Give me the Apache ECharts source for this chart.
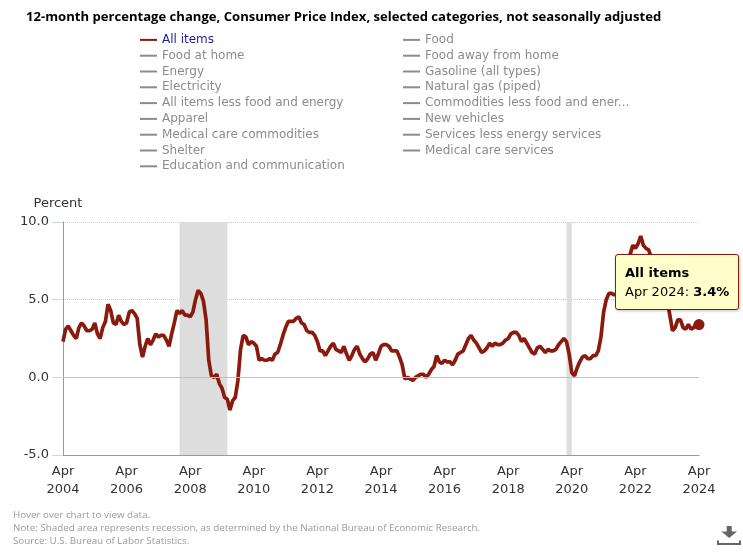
<!DOCTYPE html>
<html>
<head>
<meta charset="utf-8">
<script src="https://cdn.jsdelivr.net/npm/echarts@6/dist/echarts.min.js"></script>
<style>
html,body{margin:0;padding:0;background:#fff;}
#c{width:743px;height:553px;}
</style>
</head>
<body>
<div id="c"></div>
<script>
// ---- Data: 12-month % change, CPI-U All items (Apr 2004 - Apr 2024) ----
const cpi2004 = [2.3, 3.1, 3.3, 3.0, 2.7, 2.5, 3.2, 3.5, 3.3]; // Apr-Dec
const cpi2005 = [3.0, 3.0, 3.1, 3.5, 2.8, 2.5, 3.2, 3.6, 4.7, 4.3, 3.5, 3.4];
const cpi2006 = [4.0, 3.6, 3.4, 3.5, 4.2, 4.3, 4.1, 3.8, 2.1, 1.3, 2.0, 2.5];
const cpi2007 = [2.1, 2.4, 2.8, 2.6, 2.7, 2.7, 2.4, 2.0, 2.8, 3.5, 4.3, 4.1];
const cpi2008 = [4.3, 4.0, 4.0, 3.9, 4.2, 5.0, 5.6, 5.4, 4.9, 3.7, 1.1, 0.1];
const cpi2009 = [0.0, 0.2, -0.4, -0.7, -1.3, -1.4, -2.1, -1.5, -1.3, -0.2, 1.8, 2.7];
const cpi2010 = [2.6, 2.1, 2.3, 2.2, 2.0, 1.1, 1.2, 1.1, 1.1, 1.2, 1.1, 1.5];
const cpi2011 = [1.6, 2.1, 2.7, 3.2, 3.6, 3.6, 3.6, 3.8, 3.9, 3.5, 3.4, 3.0];
const cpi2012 = [2.9, 2.9, 2.7, 2.3, 1.7, 1.7, 1.4, 1.7, 2.0, 2.2, 1.8, 1.7];
const cpi2013 = [1.6, 2.0, 1.5, 1.1, 1.4, 1.8, 2.0, 1.5, 1.2, 1.0, 1.2, 1.5];
const cpi2014 = [1.6, 1.1, 1.5, 2.0, 2.1, 2.1, 2.0, 1.7, 1.7, 1.7, 1.3, 0.8];
const cpi2015 = [-0.1, 0.0, -0.1, -0.2, 0.0, 0.1, 0.2, 0.2, 0.0, 0.2, 0.5, 0.7];
const cpi2016 = [1.4, 1.0, 0.9, 1.1, 1.0, 1.0, 0.8, 1.1, 1.5, 1.6, 1.7, 2.1];
const cpi2017 = [2.5, 2.7, 2.4, 2.2, 1.9, 1.6, 1.7, 1.9, 2.2, 2.0, 2.2, 2.1];
const cpi2018 = [2.1, 2.2, 2.4, 2.5, 2.8, 2.9, 2.9, 2.7, 2.3, 2.5, 2.2, 1.9];
const cpi2019 = [1.6, 1.5, 1.9, 2.0, 1.8, 1.6, 1.8, 1.7, 1.7, 1.8, 2.1, 2.3];
const cpi2020 = [2.5, 2.3, 1.5, 0.3, 0.1, 0.6, 1.0, 1.3, 1.4, 1.2, 1.2, 1.4];
const cpi2021 = [1.4, 1.7, 2.6, 4.2, 5.0, 5.4, 5.4, 5.3, 5.4, 6.2, 6.8, 7.0];
const cpi2022 = [7.5, 7.9, 8.5, 8.3, 8.6, 9.1, 8.5, 8.3, 8.2, 7.7, 7.1, 6.5];
const cpi2023 = [6.4, 6.0, 5.0, 4.9, 4.0, 3.0, 3.2, 3.7, 3.7, 3.2, 3.1, 3.4];
const cpi2024 = [3.1, 3.2, 3.5, 3.4]; // Jan-Apr

const monthNames = ['Jan','Feb','Mar','Apr','May','Jun','Jul','Aug','Sep','Oct','Nov','Dec'];
const yearlySeries = [
  [2004, 3, cpi2004], [2005, 0, cpi2005], [2006, 0, cpi2006], [2007, 0, cpi2007],
  [2008, 0, cpi2008], [2009, 0, cpi2009], [2010, 0, cpi2010], [2011, 0, cpi2011],
  [2012, 0, cpi2012], [2013, 0, cpi2013], [2014, 0, cpi2014], [2015, 0, cpi2015],
  [2016, 0, cpi2016], [2017, 0, cpi2017], [2018, 0, cpi2018], [2019, 0, cpi2019],
  [2020, 0, cpi2020], [2021, 0, cpi2021], [2022, 0, cpi2022], [2023, 0, cpi2023],
  [2024, 0, cpi2024]
];
const categories = [];
const allItems = [];
yearlySeries.forEach(([yr, m0, vals]) => {
  vals.forEach((v, k) => { categories.push(monthNames[m0 + k] + ' ' + yr); allItems.push(v); });
});

// Recession periods (NBER)
const recessions = [['Dec 2007', 'Jun 2009'], ['Feb 2020', 'Apr 2020']];

const leftNames = ['All items', 'Food at home', 'Energy', 'Electricity', 'All items less food and energy',
  'Apparel', 'Medical care commodities', 'Shelter', 'Education and communication'];
const rightNames = ['Food', 'Food away from home', 'Gasoline (all types)', 'Natural gas (piped)',
  'Commodities less food and energy commodities', 'New vehicles', 'Services less energy services',
  'Medical care services'];

const titleText = '12-month percentage change, Consumer Price Index, selected categories, not seasonally adjusted';
const footerLines = [
  'Hover over chart to view data.',
  'Note: Shaded area represents recession, as determined by the National Bureau of Economic Research.',
  'Source: U.S. Bureau of Labor Statistics.'
];

const RED = '#8b1a0e';
const selected = {};
leftNames.concat(rightNames).forEach(n => { selected[n] = (n === 'All items'); });

const mainData = allItems.map((v, i) => i === allItems.length - 1
  ? { value: v, symbol: 'circle', symbolSize: 10 } : v);

const series = [{
  name: 'All items',
  type: 'line',
  data: mainData,
  color: RED,
  symbol: 'none',
  showSymbol: true,
  showAllSymbol: true,
  lineStyle: { width: 3.7, color: RED },
  itemStyle: { color: RED },
  emphasis: { disabled: true },
  z: 3,
  markArea: {
    silent: true,
    itemStyle: { color: '#dddddd' },
    data: recessions.map(r => [{ xAxis: r[0] }, { xAxis: r[1] }])
  },
  markLine: {
    silent: true,
    symbol: ['none', 'none'],
    label: { show: false },
    lineStyle: { color: '#c0c0c0', type: 'solid', width: 1 },
    data: [{ yAxis: 0 }]
  }
}];
leftNames.concat(rightNames).forEach(n => {
  if (n !== 'All items') series.push({ name: n, type: 'line', data: [], color: '#999' });
});

const legendBase = {
  orient: 'vertical', top: 32, padding: 0, itemGap: 0,
  itemWidth: 17, itemHeight: 2, icon: 'rect',
  inactiveColor: '#8c8c8c', inactiveBorderColor: '#8c8c8c',
  selected: selected,
  textStyle: { fontFamily: 'DejaVu Sans', fontSize: 12, lineHeight: 15.8, color: '#1c1c9c' }
};

const chart = echarts.init(document.getElementById('c'), null, { renderer: 'canvas' });
chart.setOption({
  animation: false,
  textStyle: { fontFamily: 'DejaVu Sans' },
  title: {
    text: titleText, left: 26, top: 11, padding: 0,
    textStyle: { fontFamily: 'Open Sans', fontWeight: 'bold', fontSize: 13.1, color: '#000' }
  },
  legend: [
    Object.assign({}, legendBase, { left: 140, data: leftNames }),
    Object.assign({}, legendBase, {
      left: 403, data: rightNames,
      textStyle: Object.assign({}, legendBase.textStyle, { width: 209, overflow: 'truncate', ellipsis: '...' })
    })
  ],
  grid: { left: 63, right: 44, top: 222, bottom: 98, containLabel: false, outerBoundsMode: 'none' },
  tooltip: {
    trigger: 'axis',
    triggerOn: 'none',
    alwaysShowContent: true,
    axisPointer: { type: 'none' },
    position: [615, 254],
    transitionDuration: 0,
    backgroundColor: '#ffffcc',
    borderColor: RED,
    borderWidth: 1,
    padding: [8, 9],
    textStyle: { fontFamily: 'DejaVu Sans', fontSize: 13, color: '#000' },
    extraCssText: 'border-radius:3px;box-shadow:1px 1px 3px rgba(0,0,0,0.25);',
    formatter: params => {
      const p = params[0];
      return '<div style="line-height:19px;font-family:DejaVu Sans;font-size:13px;color:#000">' +
        '<b>' + p.seriesName + '</b><br/>' + p.name + ': <b>' + p.value + '%</b></div>';
    }
  },
  xAxis: {
    type: 'category',
    data: categories,
    boundaryGap: false,
    axisLine: { onZero: false, lineStyle: { color: '#999', width: 1 } },
    axisTick: { show: false },
    axisLabel: {
      interval: 23, margin: 8, fontSize: 13, color: '#333', lineHeight: 18,
      fontFamily: 'DejaVu Sans',
      formatter: v => v.replace(' ', '\n')
    },
    splitLine: { show: false }
  },
  yAxis: {
    type: 'value', min: -5, max: 10, interval: 5,
    name: 'Percent', nameLocation: 'end', nameGap: 12,
    nameTextStyle: { fontSize: 13, color: '#333', fontFamily: 'DejaVu Sans', padding: [0, 10, 0, 0] },
    axisLine: { show: true, lineStyle: { color: '#999', width: 1 } },
    axisTick: { show: true, length: 11, lineStyle: { color: '#ccd6eb' } },
    axisLabel: { margin: 14, fontSize: 13, color: '#333', fontFamily: 'DejaVu Sans', formatter: v => v.toFixed(1) },
    splitLine: { show: true, lineStyle: { type: 'dotted', color: '#c8c8c8', width: 1 } }
  },
  graphic: footerLines.map((t, i) => ({
    type: 'text', left: 13, top: 510 + i * 13,
    style: { text: t, fill: '#9a9a9a', font: '9.8px "Open Sans"' }
  })).concat([
    { type: 'polygon', shape: { points: [[726.7, 526], [731.7, 526], [731.7, 531.5], [737, 531.5], [729.2, 538], [721.4, 531.5], [726.7, 531.5]] },
      style: { fill: '#666' } },
    { type: 'polyline', shape: { points: [[718, 540.5], [718, 544], [740, 544], [740, 540.5]] },
      style: { stroke: '#666', lineWidth: 2, fill: null } }
  ]),
  series: series
});
chart.dispatchAction({ type: 'showTip', seriesIndex: 0, dataIndex: allItems.length - 1 });
</script>
</body>
</html>
